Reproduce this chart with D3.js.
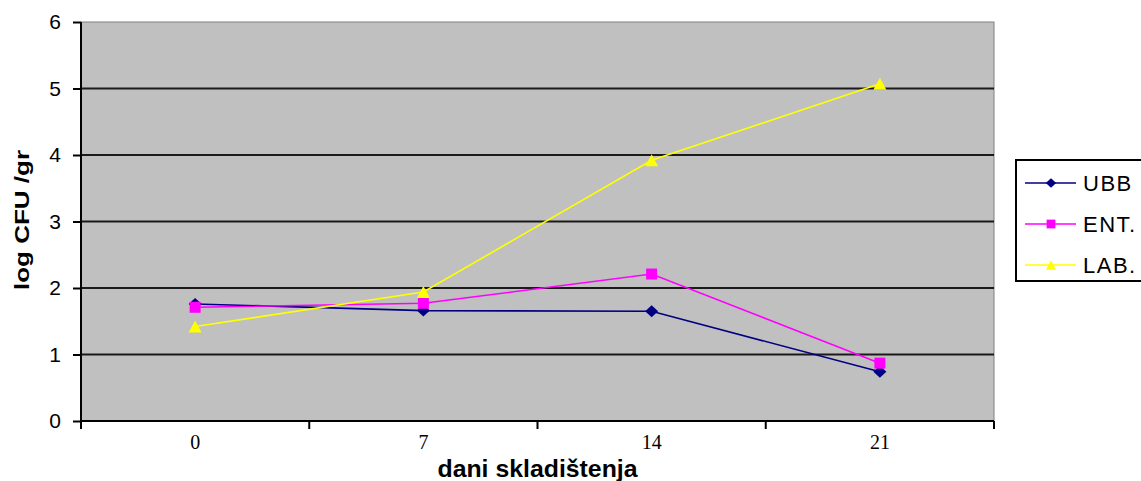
<!DOCTYPE html>
<html>
<head>
<meta charset="utf-8">
<script src="https://cdn.jsdelivr.net/npm/d3@7/dist/d3.min.js"></script>
<style>
  html, body { margin: 0; padding: 0; background: #ffffff; }
  svg { display: block; }
</style>
</head>
<body>
<svg id="chart" width="1141" height="481"></svg>
<script>
// Storage days and microbial counts (log CFU/gr) per bacterial group
const days = ["0", "7", "14", "21"];
const ubbValues = [1.76, 1.66, 1.65, 0.74];
const entValues = [1.71, 1.77, 2.21, 0.87];
const labValues = [1.42, 1.94, 3.92, 5.07];
const yTickValues = [0, 1, 2, 3, 4, 5, 6];
const seriesNames = ["UBB", "ENT.", "LAB."];

const series = [
  { name: seriesNames[0], values: ubbValues, color: "#000080", marker: "diamond" },
  { name: seriesNames[1], values: entValues, color: "#ff00ff", marker: "square" },
  { name: seriesNames[2], values: labValues, color: "#ffff00", marker: "triangle" }
];

const svg = d3.select("#chart");
const plot = { left: 81, right: 994, top: 22, bottom: 421 };

const x = d3.scaleBand().domain(days).range([plot.left, plot.right]);
const y = d3.scaleLinear().domain([0, 6]).range([plot.bottom, plot.top]);

// marker shapes
function markerPath(type, s) {
  if (type === "diamond") {
    const w = 6.5 * s, h = 6 * s;
    return `M0,${-h}L${w},0L0,${h}L${-w},0Z`;
  }
  if (type === "square") {
    const h = 5.5 * s;
    return `M${-h},${-h}H${h}V${h}H${-h}Z`;
  }
  const w = 6.5 * s, h = 6 * s;
  return `M0,${-h}L${w},${h}L${-w},${h}Z`;
}

// plot area background
svg.append("rect")
  .attr("x", plot.left).attr("y", plot.top)
  .attr("width", plot.right - plot.left).attr("height", plot.bottom - plot.top)
  .attr("fill", "#c0c0c0").attr("stroke", "#808080").attr("stroke-width", 1);

// horizontal gridlines
svg.append("g").selectAll("line")
  .data(yTickValues.filter(v => v > 0 && v < 6))
  .join("line")
  .attr("x1", plot.left).attr("x2", plot.right)
  .attr("y1", d => y(d)).attr("y2", d => y(d))
  .attr("stroke", "#1a1a1a").attr("stroke-width", 2);

// y axis
const yAxis = svg.append("g")
  .attr("transform", `translate(${plot.left},0)`)
  .call(d3.axisLeft(y).tickValues(yTickValues).tickSize(8).tickPadding(12).tickFormat(d3.format("d")));
yAxis.select(".domain").attr("stroke", "#000").attr("stroke-width", 2)
  .attr("d", `M0,${plot.top}V${plot.bottom}`);
yAxis.selectAll(".tick line").attr("stroke", "#000").attr("stroke-width", 2);
yAxis.selectAll(".tick text")
  .attr("font-family", "Liberation Sans, Arial, sans-serif")
  .attr("font-size", 21).attr("fill", "#000");

// x axis: labels at category centres, ticks at category boundaries
const xAxis = svg.append("g")
  .attr("transform", `translate(0,${plot.bottom})`)
  .call(d3.axisBottom(x).tickSize(0).tickPadding(14));
xAxis.select(".domain").attr("stroke", "#000").attr("stroke-width", 2)
  .attr("d", `M${plot.left},0H${plot.right}`);
xAxis.selectAll(".tick text")
  .attr("font-family", "Liberation Serif, Times New Roman, serif")
  .attr("font-size", 20).attr("fill", "#000");
const boundaries = d3.range(days.length + 1).map(i => plot.left + i * x.step());
xAxis.append("g").selectAll("line")
  .data(boundaries)
  .join("line")
  .attr("x1", d => d).attr("x2", d => d)
  .attr("y1", 0).attr("y2", 8)
  .attr("stroke", "#000").attr("stroke-width", 2);

// axis titles
svg.append("text")
  .attr("transform", `translate(29,${(150 + 290) / 2}) rotate(-90)`)
  .attr("text-anchor", "middle")
  .attr("font-family", "Liberation Sans, Arial, sans-serif")
  .attr("font-weight", "bold").attr("font-size", 21)
  .attr("textLength", 140).attr("lengthAdjust", "spacingAndGlyphs")
  .text("log CFU /gr");

svg.append("text")
  .attr("x", (plot.left + plot.right) / 2).attr("y", 477)
  .attr("text-anchor", "middle")
  .attr("font-family", "Liberation Sans, Arial, sans-serif")
  .attr("font-weight", "bold").attr("font-size", 24)
  .attr("textLength", 200).attr("lengthAdjust", "spacingAndGlyphs")
  .text("dani skladištenja");

// series lines and markers
const line = d3.line()
  .x((d, i) => x(days[i]) + x.bandwidth() / 2)
  .y(d => y(d));

const sg = svg.append("g").selectAll("g").data(series).join("g");
sg.append("path")
  .attr("d", d => line(d.values))
  .attr("fill", "none").attr("stroke", d => d.color).attr("stroke-width", 1.6);
sg.each(function (s) {
  d3.select(this).selectAll("path.mk")
    .data(s.values)
    .join("path")
    .attr("class", "mk")
    .attr("transform", (d, i) => `translate(${x(days[i]) + x.bandwidth() / 2},${y(d)})`)
    .attr("d", markerPath(s.marker, 1))
    .attr("fill", s.color);
});

// legend
const legend = svg.append("g");
legend.append("rect")
  .attr("x", 1016).attr("y", 160).attr("width", 140).attr("height", 121)
  .attr("fill", "#ffffff").attr("stroke", "#000").attr("stroke-width", 2);
const rows = legend.selectAll("g.row").data(series).join("g")
  .attr("class", "row")
  .attr("transform", (d, i) => `translate(0,${183 + i * 41})`);
rows.append("line")
  .attr("x1", 1025).attr("x2", 1076).attr("y1", 0).attr("y2", 0)
  .attr("stroke", d => d.color).attr("stroke-width", 1.6);
rows.append("path")
  .attr("transform", "translate(1051,0)")
  .attr("d", d => markerPath(d.marker, 0.8))
  .attr("fill", d => d.color);
rows.append("text")
  .attr("x", 1083).attr("y", 8)
  .attr("font-family", "Liberation Sans, Arial, sans-serif")
  .attr("font-size", 22).attr("fill", "#000")
  .attr("letter-spacing", 1.5)
  .text(d => d.name);
</script>
</body>
</html>
